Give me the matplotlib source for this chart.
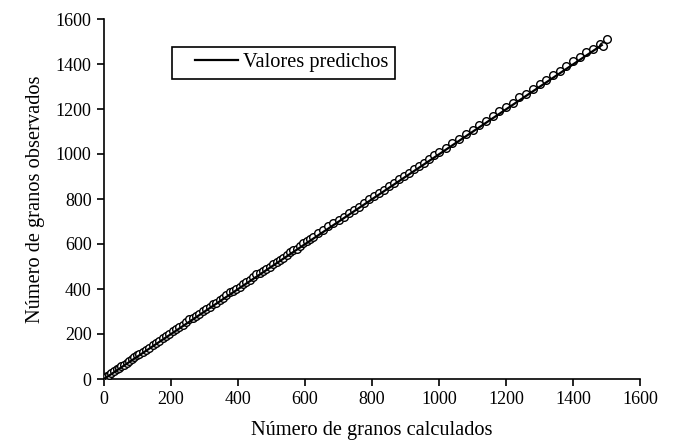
import matplotlib
matplotlib.use("Agg")
import matplotlib.pyplot as plt
import numpy as np
from matplotlib.legend_handler import HandlerLine2D

# Datos
calc = [0, 8, 15, 22, 30, 38, 45, 52, 60, 68, 75, 83, 90, 98, 105, 115, 125, 135,
        145, 155, 165, 175, 185, 195, 205, 215, 225, 235, 245, 255, 265, 275, 285,
        295, 305, 315, 325, 335, 345, 355, 365, 375, 385, 395, 405, 415, 425, 435,
        445, 455, 465, 475, 485, 495, 505, 515, 525, 535, 545, 555, 565, 575, 585,
        595, 605, 615, 625, 640, 655, 670, 685, 700, 715, 730, 745, 760, 775, 790,
        805, 820, 835, 850, 865, 880, 895, 910, 925, 940, 955, 970, 985, 1000, 1020,
        1040, 1060, 1080, 1100, 1120, 1140, 1160, 1180, 1200, 1220, 1240, 1260, 1280,
        1300, 1320, 1340, 1360, 1380, 1400, 1420, 1440, 1460, 1480, 1490, 1500]
obs = [5, 12, 20, 28, 35, 44, 50, 58, 64, 72, 80, 88, 100, 108, 110, 120, 130, 138,
       150, 162, 170, 182, 190, 200, 212, 222, 232, 238, 252, 265, 272, 280, 290,
       302, 310, 322, 332, 340, 350, 362, 372, 385, 392, 400, 410, 422, 432, 440,
       452, 465, 472, 482, 490, 500, 512, 522, 530, 540, 552, 565, 572, 580, 592,
       605, 612, 622, 630, 648, 662, 678, 692, 706, 722, 738, 752, 766, 782, 798,
       812, 826, 842, 858, 872, 888, 902, 916, 932, 948, 962, 978, 994, 1008, 1028,
       1048, 1066, 1090, 1108, 1130, 1148, 1168, 1190, 1210, 1228, 1252, 1268, 1290,
       1312, 1330, 1352, 1370, 1390, 1412, 1430, 1452, 1468, 1488, 1480, 1510]

pred_x = [0, 1486]
pred_y = [0, 1484]

plt.rcParams["font.family"] = ["Liberation Serif", "DejaVu Serif"]


class ShortLine(HandlerLine2D):
    # la línea de la leyenda empieza más a la derecha, como en el original
    def create_artists(self, legend, orig_handle, xdescent, ydescent, width,
                       height, fontsize, trans):
        arts = super().create_artists(legend, orig_handle, xdescent, ydescent,
                                      width, height, fontsize, trans)
        for a in arts:
            xd = np.asarray(a.get_xdata(), dtype=float)
            if len(xd) >= 2:
                a.set_xdata(np.linspace(xd[0] + 0.28 * width, xd[-1], len(xd)))
        return arts


fig = plt.figure(figsize=(6.73, 4.47), dpi=100)
ax = fig.add_axes([104 / 673, 68 / 447, 536 / 673, 360 / 447])

ax.plot(calc, obs, "o", mfc="white", mec="black", ms=5.5, mew=1.0, zorder=3)
line, = ax.plot(pred_x, pred_y, color="black", lw=1.6, label="Valores predichos",
                zorder=4)

ax.set_xlim(0, 1600)
ax.set_ylim(0, 1600)
ax.set_xticks(range(0, 1601, 200))
ax.set_yticks(range(0, 1601, 200))
for s in ("top", "right"):
    ax.spines[s].set_visible(False)
for s in ("left", "bottom"):
    ax.spines[s].set_linewidth(1.2)
ax.tick_params(direction="out", length=5, width=1.2, labelsize=13, pad=4)

ax.set_xlabel("Número de granos calculados", fontsize=14.7, labelpad=9)
ax.set_ylabel("Número de granos observados", fontsize=14.7, labelpad=8)

leg = ax.legend(handler_map={line: ShortLine()}, loc="upper left",
                bbox_to_anchor=(172 / 673, 1 - 47 / 447),
                bbox_transform=fig.transFigure, borderaxespad=0, fancybox=False,
                fontsize=14.7, handlelength=2.94, handletextpad=0.25,
                borderpad=0.3, framealpha=1)
leg.get_frame().set_edgecolor("black")
leg.get_frame().set_linewidth(1.2)

fig.savefig("out.png", dpi=100)
